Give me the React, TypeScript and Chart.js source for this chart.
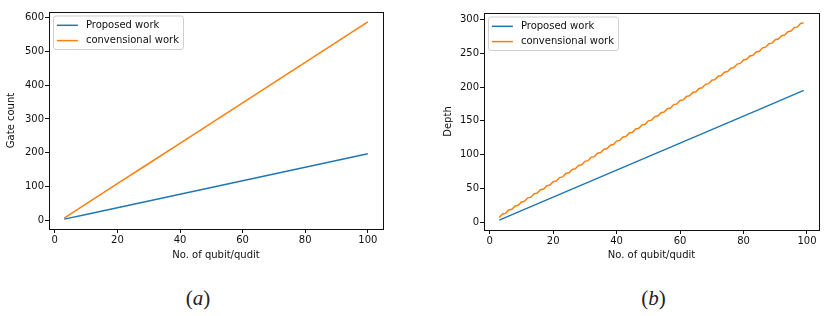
import React, { useEffect, useRef } from "react";
import { Chart, registerables } from "chart.js";

Chart.register(...registerables);

// ---- Data ----
const seriesLabels = ["Proposed work", "convensional work"];

// (a) Gate count
const gateX = [3, 10, 20, 30, 40, 50, 60, 70, 80, 90, 100];
const gateProposed = [3, 17, 37, 57, 77, 97, 117, 137, 157, 177, 197];
const gateConventional = [6, 48, 108, 168, 228, 288, 348, 408, 468, 528, 588];

// (b) Depth
const depthProposedX = [3, 10, 20, 30, 40, 50, 60, 70, 80, 90, 99];
const depthProposed = [3, 17, 37, 57, 77, 97, 117, 137, 157, 177, 195];
const depthConventionalX = [
  3, 4, 5, 6, 7, 8, 9, 10, 11, 12, 13, 14, 15, 16, 17, 18, 19, 20, 21, 22, 23, 24, 25, 26, 27, 28, 29, 30,
  31, 32, 33, 34, 35, 36, 37, 38, 39, 40, 41, 42, 43, 44, 45, 46, 47, 48, 49, 50, 51, 52, 53, 54, 55, 56,
  57, 58, 59, 60, 61, 62, 63, 64, 65, 66, 67, 68, 69, 70, 71, 72, 73, 74, 75, 76, 77, 78, 79, 80, 81, 82,
  83, 84, 85, 86, 87, 88, 89, 90, 91, 92, 93, 94, 95, 96, 97, 98, 99,
];
const depthConventional = [
  7, 12, 13, 18, 19, 24, 25, 30, 31, 36, 37, 42, 43, 48, 49, 54, 55, 60, 61, 66, 67, 72, 73, 78, 79, 84, 85, 90,
  91, 96, 97, 102, 103, 108, 109, 114, 115, 120, 121, 126, 127, 132, 133, 138, 139, 144, 145, 150, 151, 156, 157, 162, 163, 168,
  169, 174, 175, 180, 181, 186, 187, 192, 193, 198, 199, 204, 205, 210, 211, 216, 217, 222, 223, 228, 229, 234, 235, 240, 241, 246,
  247, 252, 253, 258, 259, 264, 265, 270, 271, 276, 277, 282, 283, 288, 289, 294, 295,
];

const xTicks = [0, 20, 40, 60, 80, 100];
const gateYTicks = [0, 100, 200, 300, 400, 500, 600];
const depthYTicks = [0, 50, 100, 150, 200, 250, 300];

const BLUE = "#1f77b4";
const ORANGE = "#ff7f0e";
const FONT = "'DejaVu Sans', sans-serif";

const toPts = (xs: number[], ys: number[]) => xs.map((x, i) => ({ x, y: ys[i] }));

const frameAndLegend = {
  id: "frameAndLegend",
  afterDatasetsDraw(chart: any) {
    const { ctx, chartArea } = chart;
    const { left, top, right, bottom } = chartArea;
    // legend
    ctx.save();
    ctx.font = `10px ${FONT}`;
    const ds = chart.data.datasets;
    const maxW = Math.max(...ds.map((d: any) => ctx.measureText(d.label).width));
    const bx = left + 4.5;
    const by = top + 4;
    const bw = 32.4 + maxW + 4.5;
    const bh = 33.5;
    ctx.beginPath();
    if ((ctx as any).roundRect) (ctx as any).roundRect(bx, by, bw, bh, 2.5);
    else ctx.rect(bx, by, bw, bh);
    ctx.fillStyle = "rgba(255,255,255,0.8)";
    ctx.fill();
    ctx.strokeStyle = "#d0d0d0";
    ctx.lineWidth = 1;
    ctx.stroke();
    ds.forEach((d: any, i: number) => {
      const ry = by + 9.3 + i * 15.3;
      ctx.beginPath();
      ctx.moveTo(bx + 3.4, ry);
      ctx.lineTo(bx + 24.4, ry);
      ctx.strokeStyle = d.borderColor;
      ctx.lineWidth = 1.5;
      ctx.stroke();
      ctx.fillStyle = "#111";
      ctx.textBaseline = "middle";
      ctx.textAlign = "left";
      ctx.fillText(d.label, bx + 32.4, ry);
    });
    // frame
    ctx.strokeStyle = "#111";
    ctx.lineWidth = 1;
    ctx.strokeRect(Math.round(left) + 0.5, Math.round(top) + 0.5, Math.round(right - left), Math.round(bottom - top));
    ctx.restore();
  },
};

type PanelProps = {
  datasets: { label: string; color: string; pts: { x: number; y: number }[] }[];
  xMin: number;
  xMax: number;
  yMin: number;
  yMax: number;
  yTicks: number[];
  yTitle: string;
  padLeft: number;
  yWidth: number;
  padTop: number;
  padRight: number;
  xHeight: number;
  width: number;
  height: number;
};

function Panel(p: PanelProps) {
  const ref = useRef<HTMLCanvasElement | null>(null);
  useEffect(() => {
    if (!ref.current) return;
    const tickFont = { family: FONT, size: 10 };
    const chart = new Chart(ref.current, {
      type: "line",
      data: {
        datasets: p.datasets.map((d) => ({
          label: d.label,
          data: d.pts,
          borderColor: d.color,
          backgroundColor: d.color,
          borderWidth: 1.5,
          pointRadius: 0,
          tension: 0,
          fill: false,
        })),
      },
      options: {
        responsive: false,
        animation: false,
        devicePixelRatio: 1,
        layout: { padding: { left: p.padLeft, top: p.padTop, right: p.padRight, bottom: 9 } },
        plugins: { legend: { display: false }, tooltip: { enabled: false } },
        scales: {
          x: {
            type: "linear",
            min: p.xMin,
            max: p.xMax,
            afterBuildTicks: (s: any) => {
              s.ticks = xTicks.map((v) => ({ value: v }));
            },
            afterFit: (s: any) => {
              s.height = p.xHeight;
            },
            ticks: { font: tickFont, color: "#111", padding: 1, maxRotation: 0, includeBounds: false },
            grid: { drawOnChartArea: false, drawTicks: true, tickLength: 4, color: "#111", tickColor: "#111" },
            border: { display: false },
            title: { display: true, text: "No. of qubit/qudit", font: tickFont, color: "#111", padding: 0 },
          },
          y: {
            type: "linear",
            min: p.yMin,
            max: p.yMax,
            afterBuildTicks: (s: any) => {
              s.ticks = p.yTicks.map((v) => ({ value: v }));
            },
            afterFit: (s: any) => {
              s.width = p.yWidth;
            },
            ticks: { font: tickFont, color: "#111", padding: 1, includeBounds: false },
            grid: { drawOnChartArea: false, drawTicks: true, tickLength: 4, color: "#111", tickColor: "#111" },
            border: { display: false },
            title: { display: true, text: p.yTitle, font: tickFont, color: "#111", padding: 0 },
          },
        },
      },
      plugins: [frameAndLegend],
    } as any);
    return () => chart.destroy();
  }, []);
  return <canvas ref={ref} width={p.width} height={p.height} style={{ width: p.width, height: p.height, display: "block" }} />;
}

const capStyle: React.CSSProperties = {
  position: "absolute",
  top: 286,
  fontFamily: "'Liberation Serif', 'DejaVu Serif', serif",
  fontSize: 21,
  lineHeight: "24px",
  color: "#222",
  transform: "translateX(-50%)",
  whiteSpace: "nowrap",
};

export default function App() {
  return (
    <div style={{ position: "fixed", left: 0, top: 0, width: 832, height: 316, background: "#fff", overflow: "hidden" }}>
      <div style={{ position: "absolute", left: 0, top: 0 }}>
        <Panel
          datasets={[
            { label: seriesLabels[0], color: BLUE, pts: toPts(gateX, gateProposed) },
            { label: seriesLabels[1], color: ORANGE, pts: toPts(gateX, gateConventional) },
          ]}
          xMin={-1.85}
          xMax={104.85}
          yMin={-26.25}
          yMax={617.25}
          yTicks={gateYTicks}
          yTitle="Gate count"
          padLeft={5}
          yWidth={44}
          padTop={12}
          padRight={17}
          xHeight={32}
          width={400}
          height={270}
        />
      </div>
      <div style={{ position: "absolute", left: 420, top: 0 }}>
        <Panel
          datasets={[
            { label: seriesLabels[0], color: BLUE, pts: toPts(depthProposedX, depthProposed) },
            { label: seriesLabels[1], color: ORANGE, pts: toPts(depthConventionalX, depthConventional) },
          ]}
          xMin={-1.8}
          xMax={103.8}
          yMin={-11.6}
          yMax={309.6}
          yTicks={depthYTicks}
          yTitle="Depth"
          padLeft={22}
          yWidth={42}
          padTop={13}
          padRight={13}
          xHeight={31}
          width={412}
          height={270}
        />
      </div>
      <div style={{ ...capStyle, left: 198 }}>
        (<i>a</i>)
      </div>
      <div style={{ ...capStyle, left: 653.5 }}>
        (<i>b</i>)
      </div>
    </div>
  );
}
